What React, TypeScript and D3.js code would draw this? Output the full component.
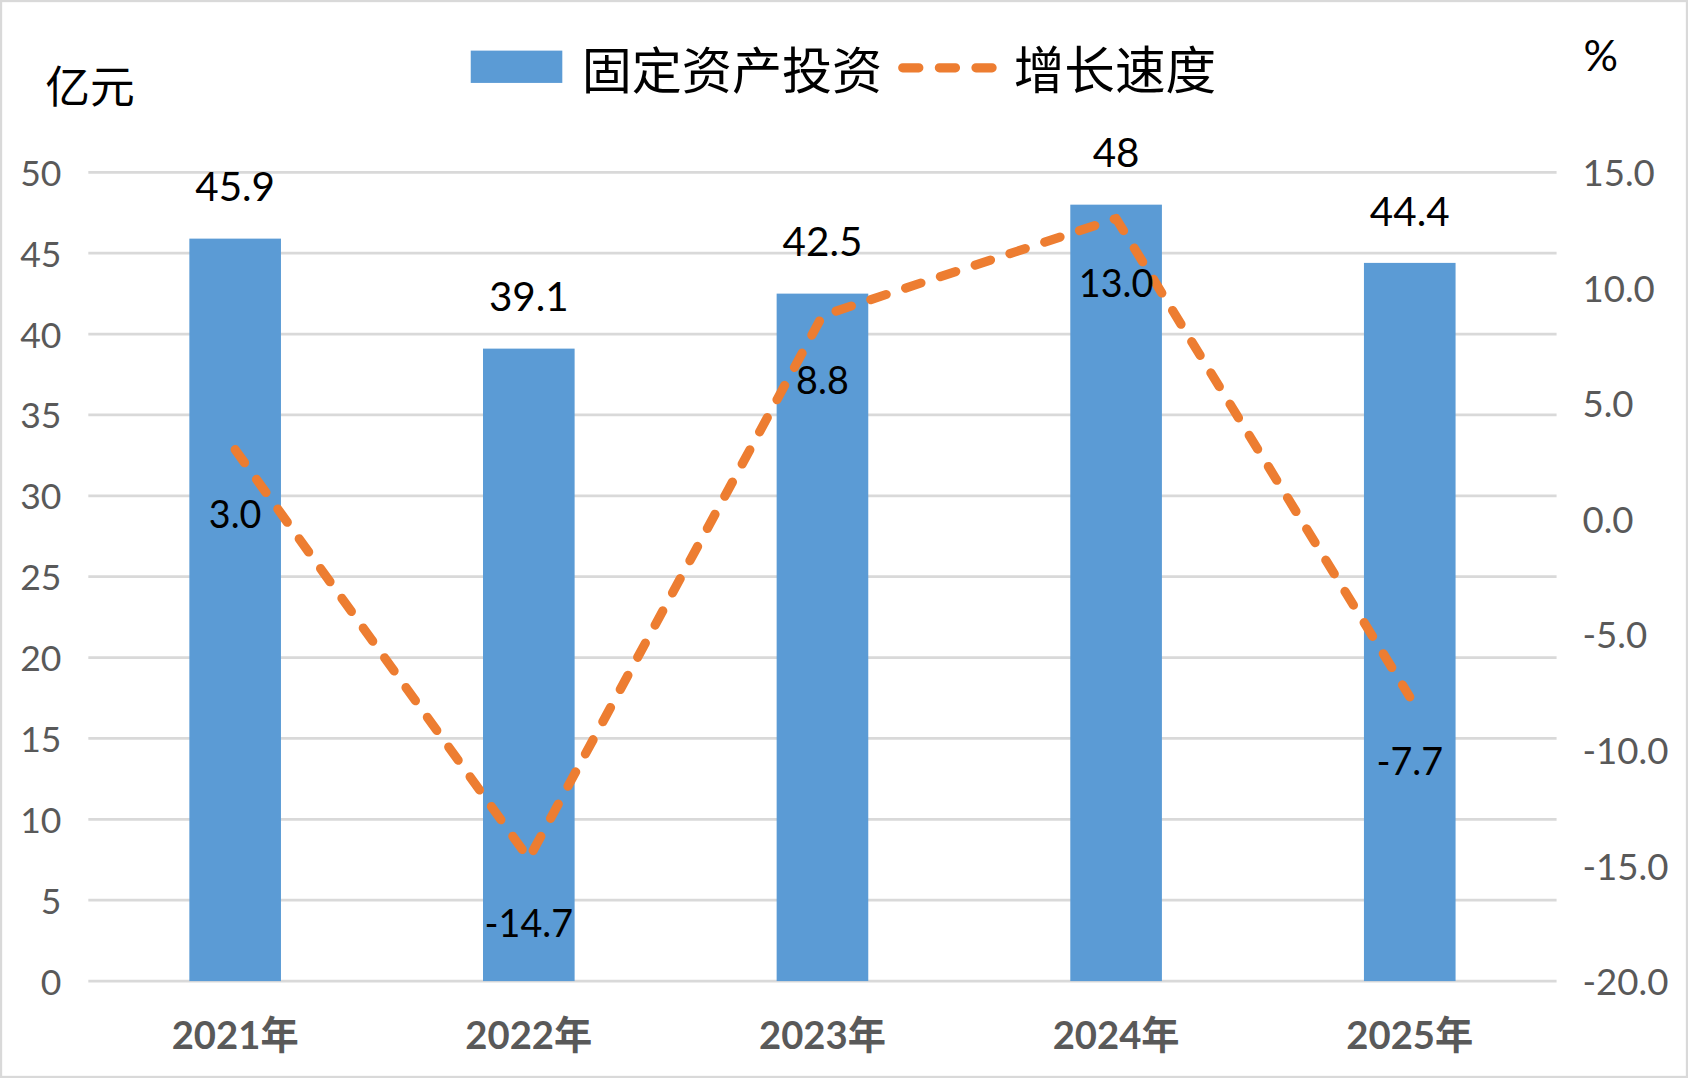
import React from 'react';
import * as d3 from 'd3';

const years = ['2021年', '2022年', '2023年', '2024年', '2025年'];
const investment = [45.9, 39.1, 42.5, 48, 44.4];
const investmentLabels = ['45.9', '39.1', '42.5', '48', '44.4'];
const growth = [3.0, -14.7, 8.8, 13.0, -7.7];
const leftTicks = [0, 5, 10, 15, 20, 25, 30, 35, 40, 45, 50];
const rightTicks = [-20, -15, -10, -5, 0, 5, 10, 15];

// drawn in the coordinates of a 1567x1001 frame, scaled up to the window
const W = 1567;
const H = 1001;
const left = 82;
const right = 1445;
const top = 160;
const bottom = 911;

const BAR = '#5B9BD5';
const LINE = '#ED7D31';
const GRID = '#D9D9D9';
const AXIS = '#595959';
const FONT = 'Lato, "Noto Sans", "Noto Sans CJK SC", sans-serif';
const CJK = '"Noto Sans CJK SC", sans-serif';

const App: React.FC = () => {
  const x = d3.scaleBand<string>().domain(years).range([left, right]);
  const yL = d3.scaleLinear().domain([0, 50]).range([bottom, top]);
  const yR = d3.scaleLinear().domain([-20, 15]).range([bottom, top]);
  const barW = x.bandwidth() * 0.312;
  const cx = (d: string) => (x(d) ?? 0) + x.bandwidth() / 2;

  const line = d3.line<number>()
    .x((_, i) => cx(years[i]))
    .y(d => yR(d));

  const dash = '15 19';

  return (
    <div style={{ position: 'absolute', left: 0, top: 0 }}>
      <svg width={1688} height={1078} viewBox={`0 0 ${W} ${H}`} preserveAspectRatio="none">
        <rect x={0} y={0} width={W} height={H} fill="#fff" />
        <rect x={1} y={1} width={W - 2} height={H - 2} fill="none" stroke={GRID} strokeWidth={2} />

        {leftTicks.map(t => (
          <g key={t}>
            <line x1={left} x2={right} y1={yL(t)} y2={yL(t)} stroke={GRID} strokeWidth={2.5} />
            <text x={57} y={yL(t)} textAnchor="end" dominantBaseline="central"
              fontFamily={FONT} fontSize={33} fill={AXIS}>{t}</text>
          </g>
        ))}

        {rightTicks.map(t => (
          <text key={t} x={1469} y={yR(t)} dominantBaseline="central"
            fontFamily={FONT} fontSize={34} fill={AXIS}>{t.toFixed(1)}</text>
        ))}

        {years.map((d, i) => (
          <g key={d}>
            <rect x={cx(d) - barW / 2} y={yL(investment[i])} width={barW}
              height={yL(0) - yL(investment[i])} fill={BAR} />
            <text x={cx(d)} y={yL(investment[i]) - 49} textAnchor="middle" dominantBaseline="central"
              fontFamily={FONT} fontSize={37.5} fill="#000">{investmentLabels[i]}</text>
            <text x={cx(d)} y={960} textAnchor="middle" dominantBaseline="central"
              fontFamily={FONT} fontSize={35.5} fontWeight="bold" fill={AXIS}>{d}</text>
          </g>
        ))}

        <path d={line(growth) || ''} fill="none" stroke={LINE} strokeWidth={8.5}
          strokeDasharray={dash} strokeLinecap="round" strokeLinejoin="round" />

        {years.map((d, i) => (
          <text key={d} x={cx(d)} y={yR(growth[i]) + 59} textAnchor="middle" dominantBaseline="central"
            fontFamily={FONT} fontSize={35} fill="#000">{growth[i].toFixed(1)}</text>
        ))}

        <text x={42} y={78} dominantBaseline="central" fontFamily={CJK} fontSize={41.5} fill="#000">亿元</text>
        <text x={1470} y={50} dominantBaseline="central" fontFamily={FONT} fontSize={40} fill="#000">%</text>

        <rect x={437} y={47} width={85} height={30} fill={BAR} />
        <text x={540} y={62} dominantBaseline="central" fontFamily={CJK} fontSize={46.5} fill="#000">固定资产投资</text>
        <line x1={838} x2={925} y1={63} y2={63} stroke={LINE} strokeWidth={8.5}
          strokeDasharray={dash} strokeLinecap="round" />
        <text x={941} y={62} dominantBaseline="central" fontFamily={CJK} fontSize={47} fill="#000">增长速度</text>
      </svg>
    </div>
  );
};

export default App;
